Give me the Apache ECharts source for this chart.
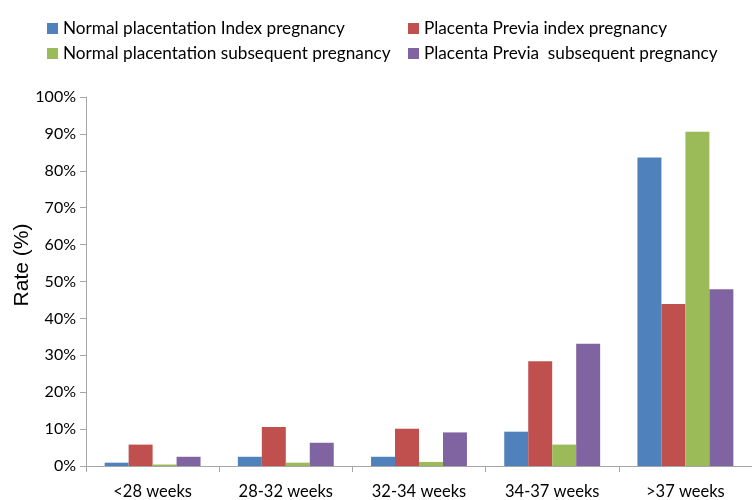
<!DOCTYPE html>
<html>
<head>
<meta charset="utf-8">
<script src="https://cdn.jsdelivr.net/npm/echarts@6/dist/echarts.min.js"></script>
<style>
  html, body { margin: 0; padding: 0; background: #fff; }
  #chart { width: 752px; height: 500px; }
</style>
</head>
<body>
<div id="chart"></div>
<script>
var categories = ['<28 weeks', '28-32 weeks', '32-34 weeks', '34-37 weeks', '>37 weeks'];
var seriesNames = [
  'Normal placentation Index pregnancy',
  'Placenta Previa index pregnancy',
  'Normal placentation subsequent pregnancy',
  'Placenta Previa  subsequent pregnancy'
];
// rates in %
var normalIndex = [0.9, 2.5, 2.5, 9.3, 83.6];
var previaIndex = [5.8, 10.6, 10.1, 28.4, 43.9];
var normalSubsequent = [0.4, 0.9, 1.1, 5.8, 90.6];
var previaSubsequent = [2.5, 6.3, 9.1, 33.1, 47.9];
var colors = ['#4F81BD', '#C0504D', '#9BBB59', '#8064A2'];

var chart = echarts.init(document.getElementById('chart'));
var values = [normalIndex, previaIndex, normalSubsequent, previaSubsequent];
var series = [];
for (var i = 0; i < values.length; i++) {
  series.push({
    name: seriesNames[i],
    type: 'bar',
    data: values[i],
    barGap: '0%',
    barCategoryGap: '28%',
    itemStyle: { color: colors[i] }
  });
}

var font = 'Lato';

var option = {
  animation: false,
  color: colors,
  legend: [
    {
      left: 42, top: 15, orient: 'vertical', itemGap: 8,
      itemWidth: 11, itemHeight: 11, icon: 'rect',
      data: [seriesNames[0], seriesNames[2]],
      textStyle: { fontFamily: font, fontSize: 17.2, color: '#000' }
    },
    {
      left: 403, top: 15, orient: 'vertical', itemGap: 8,
      itemWidth: 11, itemHeight: 11, icon: 'rect',
      data: [seriesNames[1], seriesNames[3]],
      textStyle: { fontFamily: font, fontSize: 17.2, color: '#000' }
    }
  ],
  graphic: [
    {
      type: 'text',
      x: 22, y: 265,
      rotation: Math.PI / 2,
      style: {
        text: 'Rate (%)',
        font: '21px "Liberation Sans"',
        fill: '#000',
        align: 'center',
        verticalAlign: 'middle'
      }
    }
  ],
  grid: { left: 86, right: -7, top: 97, bottom: 32.5 },
  xAxis: {
    type: 'category',
    data: categories,
    axisLine: { lineStyle: { color: '#A6A6A6' } },
    axisTick: { show: true, length: 6, lineStyle: { color: '#A6A6A6' } },
    axisLabel: { fontFamily: font, fontSize: 16.5, color: '#000', margin: 17 }
  },
  yAxis: {
    type: 'value',
    min: 0, max: 100, interval: 10,
    axisLine: { show: true, lineStyle: { color: '#A6A6A6' } },
    axisTick: { show: true, length: 6, lineStyle: { color: '#A6A6A6' } },
    splitLine: { show: false },
    axisLabel: {
      fontFamily: font, fontSize: 16, color: '#000', margin: 10,
      formatter: '{value}%'
    }
  },
  series: series
};

chart.setOption(option);
</script>
</body>
</html>
